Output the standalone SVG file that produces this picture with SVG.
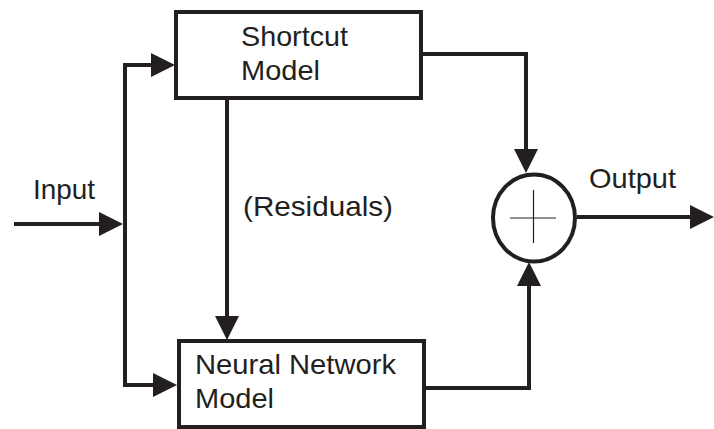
<svg xmlns="http://www.w3.org/2000/svg" width="714" height="429" viewBox="0 0 714 429">
<style>
  .box{fill:#fff;stroke:#231f20;stroke-width:4}
  .wire{fill:none;stroke:#231f20;stroke-width:4;stroke-linejoin:miter;stroke-linecap:butt}
  .thin{fill:none;stroke:#231f20;stroke-width:1.2}
  text{font-family:"Liberation Sans",Arial,sans-serif;font-size:28px;fill:#231f20}
</style>
<defs>
  <marker id="ah" markerUnits="userSpaceOnUse" markerWidth="24" markerHeight="24" viewBox="0 -12 24 24" refX="0" refY="0" orient="auto">
    <path d="M0,-12 L24,0 L0,12 z" fill="#231f20"/>
  </marker>
</defs>
<rect width="714" height="429" fill="#fff"/>
<g id="connectors">
  <path class="wire" d="M14,224 H99" marker-end="url(#ah)"/>
  <path class="wire" d="M125,224 V65 H151" marker-end="url(#ah)"/>
  <path class="wire" d="M125,224 V385 H153" marker-end="url(#ah)"/>
  <path class="wire" d="M227,98 V316" marker-end="url(#ah)"/>
  <path class="wire" d="M421,54 H526 V149" marker-end="url(#ah)"/>
  <path class="wire" d="M424,388 H529 V286" marker-end="url(#ah)"/>
  <path class="wire" d="M577,217 H690" marker-end="url(#ah)"/>
</g>
<g id="shortcut">
  <rect class="box" x="176" y="12" width="245" height="86"/>
  <text x="241" y="46" textLength="107" lengthAdjust="spacingAndGlyphs">Shortcut</text>
  <text x="241" y="80" textLength="79" lengthAdjust="spacingAndGlyphs">Model</text>
</g>
<g id="neural">
  <rect class="box" x="179" y="341" width="245" height="86"/>
  <text x="195" y="374" textLength="201" lengthAdjust="spacingAndGlyphs">Neural Network</text>
  <text x="195" y="408" textLength="79" lengthAdjust="spacingAndGlyphs">Model</text>
</g>
<g id="sum">
  <ellipse cx="534" cy="218" rx="41" ry="43.5" fill="#fff" stroke="#231f20" stroke-width="4"/>
  <path class="thin" d="M510,218 H556 M533.5,190 V243"/>
</g>
<g id="labels">
  <text x="33" y="199" textLength="62" lengthAdjust="spacingAndGlyphs">Input</text>
  <text x="243" y="216" textLength="150" lengthAdjust="spacingAndGlyphs">(Residuals)</text>
  <text x="589" y="188" textLength="87" lengthAdjust="spacingAndGlyphs">Output</text>
</g>
</svg>
